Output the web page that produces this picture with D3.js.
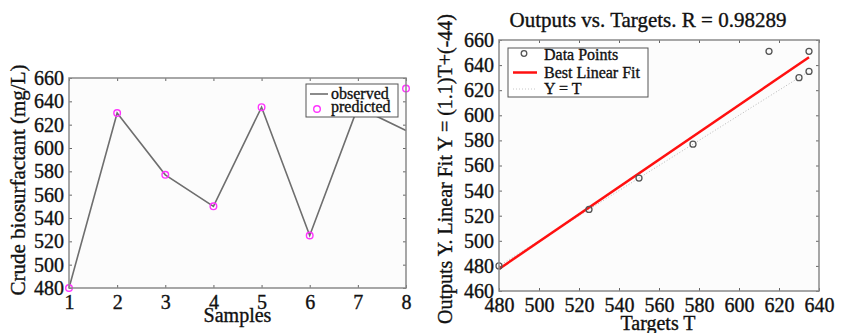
<!DOCTYPE html>
<html>
<head>
<meta charset="utf-8">
<script src="https://cdn.jsdelivr.net/npm/d3@7"></script>
<style>
  body { margin: 0; background: #fff; }
  text { font-family: "Liberation Serif", "Times New Roman", serif; fill: #111; stroke: #111; stroke-width: 0.35; }
</style>
</head>
<body>
<svg width="842" height="333"></svg>
<script>
// data
const samples = [1, 2, 3, 4, 5, 6, 7, 8];
const observed = [480, 630, 577, 550, 635, 525, 635, 615];
const predicted = [480, 630, 577, 550, 635, 525, 651, 651];
const leftYTicks = [480, 500, 520, 540, 560, 580, 600, 620, 640, 660];
const rightYTicks = [460, 480, 500, 520, 540, 560, 580, 600, 620, 640, 660];
const rightXTicks = [480, 500, 520, 540, 560, 580, 600, 620, 640];
const titleText = "Outputs vs. Targets. R = 0.98289";

const svg = d3.select("svg");
const boxColor = "#8a8a8a";

// axis helper, MATLAB style: ticks inward on all four sides
function frame(g, x, y, w, h, xTicks, yTicks, xs, ys) {
    g.append("rect").attr("x", x).attr("y", y).attr("width", w).attr("height", h)
        .attr("fill", "#fcfcfc");
    const bottom = g.append("g").attr("transform", `translate(0,${y + h})`)
        .call(d3.axisBottom(xs).tickValues(xTicks).tickSize(-3).tickPadding(5).tickFormat(d3.format("d")));
    const left = g.append("g").attr("transform", `translate(${x},0)`)
        .call(d3.axisLeft(ys).tickValues(yTicks).tickSize(-3).tickPadding(5).tickFormat(d3.format("d")));
    g.append("g").attr("transform", `translate(0,${y})`)
        .call(d3.axisTop(xs).tickValues(xTicks).tickSize(-3).tickFormat(""));
    g.append("g").attr("transform", `translate(${x + w},0)`)
        .call(d3.axisRight(ys).tickValues(yTicks).tickSize(-3).tickFormat(""));
    g.selectAll(".domain").attr("stroke", "none");
    g.selectAll(".tick line").attr("stroke", "#666");
    [bottom, left].forEach(a => a.selectAll("text")
        .attr("font-size", 20).attr("fill", "#111")
        .attr("font-family", "Liberation Serif, serif"));
    bottom.selectAll("text").attr("dy", "0.78em");
    return g;
}

function drawBox(g, x, y, w, h) {
    g.append("rect").attr("x", x).attr("y", y).attr("width", w).attr("height", h)
        .attr("fill", "none").attr("stroke", boxColor).attr("stroke-width", 1.5);
}

// ---------- left panel ----------
const L = { x: 69, y: 78, w: 337, h: 210 };
const lx = d3.scaleLinear().domain([1, 8]).range([L.x, L.x + L.w]);
const ly = d3.scaleLinear().domain([480, 660]).range([L.y + L.h, L.y]);
const gl = svg.append("g");
frame(gl, L.x, L.y, L.w, L.h, samples, leftYTicks, lx, ly);

gl.append("path")
    .datum(samples.map((s, i) => [s, observed[i]]))
    .attr("fill", "none").attr("stroke", "#6e6e6e").attr("stroke-width", 1.6)
    .attr("d", d3.line().x(d => lx(d[0])).y(d => ly(d[1])));

gl.selectAll(".pred").data(samples.map((s, i) => [s, predicted[i]]))
    .join("circle").attr("class", "pred")
    .attr("cx", d => lx(d[0])).attr("cy", d => ly(d[1])).attr("r", 3.3)
    .attr("fill", "none").attr("stroke", "#ff33ff").attr("stroke-width", 1.4);

drawBox(gl, L.x, L.y, L.w, L.h);

// left legend
const lg = gl.append("g").attr("transform", "translate(306,84)");
lg.append("rect").attr("width", 92).attr("height", 33)
    .attr("fill", "#fff").attr("stroke", "#555").attr("stroke-width", 1);
lg.append("line").attr("x1", 4).attr("x2", 22).attr("y1", 10).attr("y2", 10)
    .attr("stroke", "#6e6e6e").attr("stroke-width", 1.6);
lg.append("text").attr("x", 25).attr("y", 15).attr("font-size", 16).text("observed");
lg.append("circle").attr("cx", 11).attr("cy", 25).attr("r", 3.3)
    .attr("fill", "none").attr("stroke", "#ff33ff").attr("stroke-width", 1.4);
lg.append("text").attr("x", 25).attr("y", 28).attr("font-size", 16).text("predicted");

gl.append("text").attr("x", L.x + L.w / 2).attr("y", 322)
    .attr("text-anchor", "middle").attr("font-size", 20).text("Samples");
gl.append("text").attr("transform", `translate(25,180) rotate(-90)`)
    .attr("text-anchor", "middle").attr("font-size", 21).text("Crude biosurfactant (mg/L)");

// ---------- right panel ----------
const R = { x: 499, y: 40, w: 320, h: 251 };
const rx = d3.scaleLinear().domain([480, 640]).range([R.x, R.x + R.w]);
const ry = d3.scaleLinear().domain([460, 660]).range([R.y + R.h, R.y]);
const gr = svg.append("g");
frame(gr, R.x, R.y, R.w, R.h, rightXTicks, rightYTicks, rx, ry);

// least-squares fit of outputs on targets
const mT = d3.mean(observed), mY = d3.mean(predicted);
const slope = d3.sum(observed, (t, i) => (t - mT) * (predicted[i] - mY)) /
              d3.sum(observed, t => (t - mT) * (t - mT));
const icpt = mY - slope * mT;
const tMin = d3.min(observed), tMax = d3.max(observed);

gr.append("line")
    .attr("x1", rx(tMin)).attr("y1", ry(tMin)).attr("x2", rx(tMax)).attr("y2", ry(tMax))
    .attr("stroke", "#b8b8b8").attr("stroke-width", 1).attr("stroke-dasharray", "1,2");
gr.append("line")
    .attr("x1", rx(tMin)).attr("y1", ry(slope * tMin + icpt))
    .attr("x2", rx(tMax)).attr("y2", ry(slope * tMax + icpt))
    .attr("stroke", "#ff1010").attr("stroke-width", 2.5);

gr.selectAll(".pt").data(observed.map((t, i) => [t, predicted[i]]))
    .join("circle").attr("class", "pt")
    .attr("cx", d => rx(d[0])).attr("cy", d => ry(d[1])).attr("r", 3)
    .attr("fill", "none").attr("stroke", "#555").attr("stroke-width", 1.3);

drawBox(gr, R.x, R.y, R.w, R.h);

// right legend
const rg = gr.append("g").attr("transform", "translate(508,48)");
rg.append("rect").attr("width", 140).attr("height", 49)
    .attr("fill", "#fff").attr("stroke", "#555").attr("stroke-width", 1);
rg.append("circle").attr("cx", 16).attr("cy", 5.5).attr("r", 2.8)
    .attr("fill", "none").attr("stroke", "#555").attr("stroke-width", 1.3);
rg.append("text").attr("x", 36).attr("y", 12).attr("font-size", 16).text("Data Points");
rg.append("line").attr("x1", 5).attr("x2", 29).attr("y1", 24.5).attr("y2", 24.5)
    .attr("stroke", "#ff1010").attr("stroke-width", 2.5);
rg.append("text").attr("x", 36).attr("y", 29.5).attr("font-size", 16).text("Best Linear Fit");
rg.append("line").attr("x1", 5).attr("x2", 29).attr("y1", 41).attr("y2", 41)
    .attr("stroke", "#c8c8c8").attr("stroke-width", 1).attr("stroke-dasharray", "1,2");
rg.append("text").attr("x", 36).attr("y", 46).attr("font-size", 16).text("Y = T");

gr.append("text").attr("x", 648).attr("y", 27)
    .attr("text-anchor", "middle").attr("font-size", 21).text(titleText);
gr.append("text").attr("x", 658).attr("y", 330)
    .attr("text-anchor", "middle").attr("font-size", 20).text("Targets T");
gr.append("text").attr("transform", `translate(452,169) rotate(-90)`)
    .attr("text-anchor", "middle").attr("font-size", 20).text("Outputs Y. Linear Fit Y = (1.1)T+(-44)");
</script>
</body>
</html>
